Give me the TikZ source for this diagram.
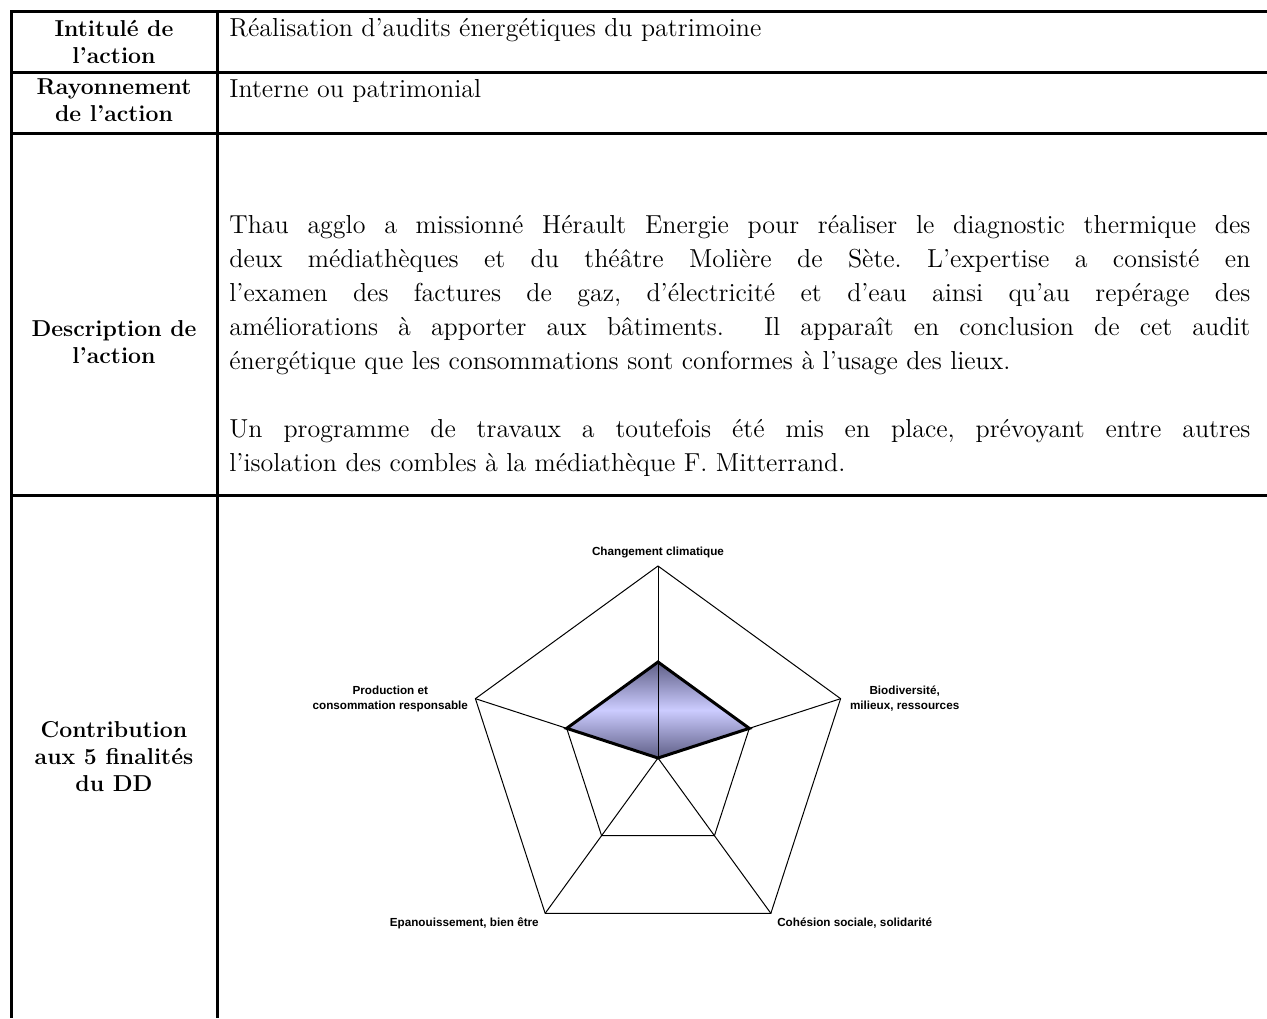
\documentclass[tikz,border=0pt]{standalone}
\usepackage{fontspec}
\usepackage{xcolor}
\usetikzlibrary{positioning}
\newfontfamily\chartfont{Liberation Sans}
\definecolor{RDdark}{RGB}{94,94,134}
\definecolor{RDlight}{RGB}{204,204,255}
\frenchspacing
\tikzset{
    HD1/.style ={align=center, inner sep=0pt, font=\bfseries\fontsize{11.5}{13.5}\selectfont},
    TX1/.style ={anchor=base west, inner sep=0pt, font=\fontsize{13}{17}\selectfont},
    PA1/.style ={anchor=base west, inner sep=0pt, text width=510.5pt, align=justify, font=\fontsize{13}{17}\selectfont},
    LB1/.style ={align=center, inner sep=0pt, font=\chartfont\bfseries\fontsize{5.85}{7.5}\selectfont},
    BD1/.style ={draw=black, line width=1.5pt},
    GR1/.style ={draw=black, line width=0.5pt},
    DT1/.style ={draw=black, line width=1.5pt, line join=miter}
}

\begin{document}
\begin{tikzpicture}
        [x=0.5pt,y=-0.5pt]
        \useasboundingbox (0,0) rectangle (1267,1018);
        \draw[BD1] (1267,11) -- (11,11) -- (11,1018);
        \draw[BD1] (217,11) -- (217,1018);
        \draw[BD1] (11,72) -- (1267,72);
        \draw[BD1] (11,133) -- (1267,133);
        \draw[BD1] (11,495) -- (1267,495);
        \node[HD1] (h1) at (114,42) {Intitulé de\\l’action};
        \node[HD1] (h2) at (114,100) {Rayonnement\\de l’action};
        \node[HD1] (h3) at (114,342) {Description de\\l’action};
        \node[HD1] (h4) at (114,757) {Contribution\\aux 5 finalités\\du DD};
        \node[TX1] (v1) at (229,36) {Réalisation d’audits énergétiques du patrimoine};
        \node[TX1] (v2) at (229,97) {Interne ou patrimonial};
        \node[PA1] (v3) at (229,233) {Thau agglo a missionné Hérault Energie pour réaliser le diagnostic thermique des\linebreak
        deux médiathèques et du théâtre Molière de Sète. L’expertise a consisté en\linebreak
        l’examen des factures de gaz, d’électricité et d’eau ainsi qu’au repérage des\linebreak
        améliorations à apporter aux bâtiments.\ \ Il apparaît en conclusion de cet audit\linebreak
        énergétique que les consommations sont conformes à l’usage des lieux.\par
        \vspace{17pt}
        Un programme de travaux a toutefois été mis en place, prévoyant entre autres\linebreak
        l’isolation des combles à la médiathèque F. Mitterrand.};
        \coordinate (c) at (658,758);
        \foreach \i/\a in {1/-90,2/-18,3/54,4/126,5/198}{
            \path (c) ++(\a:192) coordinate (o\i);
            \path (c) ++(\a:96) coordinate (m\i);
        }
        \path[top color=RDdark, bottom color=RDdark, middle color=RDlight] (m1) -- (m2) -- (c) -- (m5) -- cycle;
        \draw[GR1] (o1) -- (o2) -- (o3) -- (o4) -- (o5) -- cycle;
        \draw[GR1] (m1) -- (m2) -- (m3) -- (m4) -- (m5) -- cycle;
        \foreach \i in {1,...,5}{
            \draw[GR1] (c) -- (o\i);
        }
        \draw[DT1] (m1) -- (m2) -- (c) -- (m5) -- cycle;
        \node[LB1, above=4pt of o1] (t1) {Changement climatique};
        \node[LB1, right=4.5pt of o2] (t2) {Biodiversité,\\milieux, ressources};
        \node[LB1, below right=2pt and 3pt of o3] (t3) {Cohésion sociale, solidarité};
        \node[LB1, below left=2pt and 3pt of o4] (t4) {Epanouissement, bien être};
        \node[LB1, left=3.5pt of o5] (t5) {Production et\\consommation responsable};
\end{tikzpicture}
\end{document}
